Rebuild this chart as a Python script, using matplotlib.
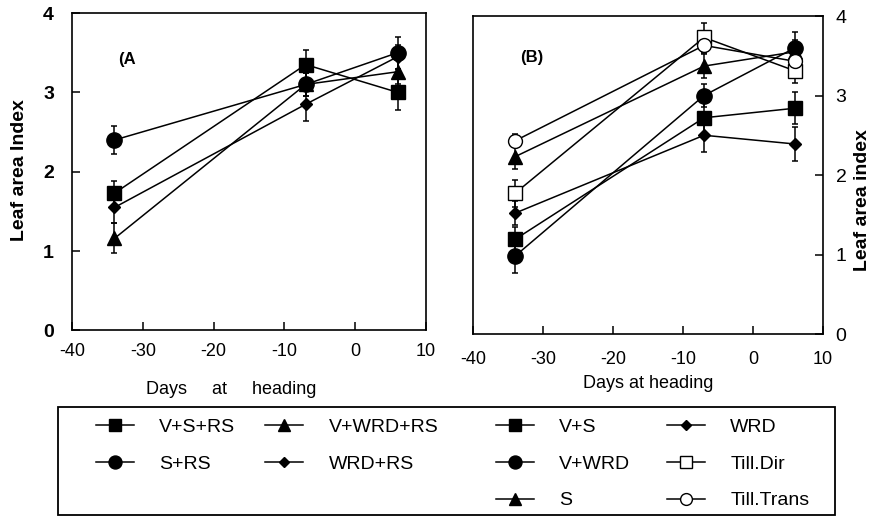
import matplotlib
matplotlib.use('Agg')
import matplotlib.pyplot as plt
from matplotlib.lines import Line2D
from matplotlib.patches import Rectangle
from matplotlib import font_manager

# sampling days relative to heading
days = [-34, -7, 6]

# panel A treatments (with RS)
a_vsrs = [1.73, 3.35, 3.00]
a_vsrs_err = [0.15, 0.18, 0.22]
a_srs = [2.40, 3.10, 3.50]
a_srs_err = [0.18, 0.15, 0.20]
a_vwrdrs = [1.16, 3.10, 3.26]
a_vwrdrs_err = [0.19, 0.15, 0.15]
a_wrdrs = [1.55, 2.85, 3.45]
a_wrdrs_err = [0.20, 0.21, 0.15]

# panel B treatments
b_vs = [1.19, 2.72, 2.84]
b_vs_err = [0.15, 0.20, 0.20]
b_vwrd = [0.98, 3.00, 3.60]
b_vwrd_err = [0.21, 0.15, 0.20]
b_s = [2.23, 3.37, 3.55]
b_s_err = [0.15, 0.15, 0.15]
b_wrd = [1.52, 2.50, 2.39]
b_wrd_err = [0.15, 0.21, 0.21]
b_tdir = [1.77, 3.73, 3.31]
b_tdir_err = [0.17, 0.18, 0.15]
b_ttrans = [2.43, 3.63, 3.43]
b_ttrans_err = [0.08, 0.10, 0.10]

xticks = [-40, -30, -20, -10, 0, 10]
yticks = [0, 1, 2, 3, 4]

names = {f.name for f in font_manager.fontManager.ttflist}
narrow = 'Liberation Sans Narrow' if 'Liberation Sans Narrow' in names else 'Liberation Sans'
plt.rcParams['font.family'] = ['Liberation Sans', 'DejaVu Sans']
plt.rcParams['axes.unicode_minus'] = False

fig = plt.figure(figsize=(8.75, 5.18), dpi=100)
ax_a = fig.add_axes([0.0823, 0.3620, 0.4046, 0.6129])
ax_b = fig.add_axes([0.5406, 0.3552, 0.4000, 0.6139])

styles = {
    'sq': dict(marker='s', ms=10.5, mfc='black'),
    'ci': dict(marker='o', ms=11, mfc='black'),
    'tr': dict(marker='^', ms=10, mfc='black'),
    'di': dict(marker='D', ms=6, mfc='black'),
    'osq': dict(marker='s', ms=10, mfc='white'),
    'oci': dict(marker='o', ms=10, mfc='white'),
}


def series(ax, y, err, key, label):
    ax.errorbar(days, y, yerr=err, color='black', lw=1.1, elinewidth=1.1,
                capsize=2.5, capthick=1.1, mec='black', label=label,
                **styles[key])


series(ax_a, a_srs, a_srs_err, 'ci', 'S+RS')
series(ax_a, a_vwrdrs, a_vwrdrs_err, 'tr', 'V+WRD+RS')
series(ax_a, a_wrdrs, a_wrdrs_err, 'di', 'WRD+RS')
series(ax_a, a_vsrs, a_vsrs_err, 'sq', 'V+S+RS')

series(ax_b, b_s, b_s_err, 'tr', 'S')
series(ax_b, b_vwrd, b_vwrd_err, 'ci', 'V+WRD')
series(ax_b, b_wrd, b_wrd_err, 'di', 'WRD')
series(ax_b, b_vs, b_vs_err, 'sq', 'V+S')
series(ax_b, b_tdir, b_tdir_err, 'osq', 'Till.Dir')
series(ax_b, b_ttrans, b_ttrans_err, 'oci', 'Till.Trans')

for ax in (ax_a, ax_b):
    ax.set_xlim(-40, 10)
    ax.set_ylim(0, 4)
    ax.set_xticks(xticks)
    ax.set_yticks(yticks)
    for sp in ax.spines.values():
        sp.set_linewidth(1.2)
    ax.tick_params(direction='in', length=6, width=1.1, labelsize=13)

ax_a.tick_params(axis='x', pad=9)
ax_a.tick_params(axis='y', pad=13)
for t in ax_a.get_yticklabels():
    t.set_fontweight('bold')
    t.set_fontsize(14)
ax_a.set_xlabel('Days     at     heading', fontsize=13)
ax_a.xaxis.set_label_coords(0.45, -0.158)
ax_a.set_ylabel('Leaf area Index', fontsize=14, fontweight='bold', family=narrow)
ax_a.yaxis.set_label_coords(-0.125, 0.505)
ax_a.text(0.13, 0.855, '(A', transform=ax_a.transAxes, fontsize=12,
          fontweight='bold', ha='left', va='center')

ax_b.yaxis.tick_right()
ax_b.tick_params(axis='x', pad=12)
ax_b.tick_params(axis='y', pad=9, labelsize=14)
ax_b.set_xlabel('Days at heading', fontsize=13)
ax_b.xaxis.set_label_coords(0.5, -0.13)
ax_b.yaxis.set_label_position('right')
ax_b.set_ylabel('Leaf area index', fontsize=14, fontweight='bold', family=narrow,
                rotation=90)
ax_b.yaxis.set_label_coords(1.088, 0.42)
ax_b.text(0.135, 0.87, '(B)', transform=ax_b.transAxes, fontsize=12,
          fontweight='bold', ha='left', va='center')


def key_handle(h):
    ln = h.lines[0]
    return Line2D([], [], color='black', lw=1.1, marker=ln.get_marker(),
                  ms=ln.get_markersize() * 0.85, mfc=ln.get_markerfacecolor(),
                  mec='black')


ha = {h.get_label(): h for h in ax_a.get_legend_handles_labels()[0]}
hb = {h.get_label(): h for h in ax_b.get_legend_handles_labels()[0]}
keys_a = ['V+S+RS', 'S+RS', 'V+WRD+RS', 'WRD+RS']
keys_b = ['V+S', 'V+WRD', 'S', 'WRD', 'Till.Dir', 'Till.Trans']

leg_kw = dict(loc='upper left', bbox_transform=fig.transFigure, frameon=False,
              fontsize=14, handlelength=1.95, handletextpad=1.3,
              labelspacing=0.98, borderaxespad=0, ncol=2)
leg_a = fig.legend([key_handle(ha[k]) for k in keys_a], keys_a,
                   bbox_to_anchor=(0.1006, 0.207), columnspacing=1.55, **leg_kw)
leg_b = fig.legend([key_handle(hb[k]) for k in keys_b], keys_b,
                   bbox_to_anchor=(0.5577, 0.207), columnspacing=1.9, **leg_kw)

fig.patches.append(Rectangle((0.066, 0.006), 0.888, 0.208, transform=fig.transFigure,
                             fill=False, edgecolor='black', lw=1.3))

fig.savefig('out.png', dpi=100)
